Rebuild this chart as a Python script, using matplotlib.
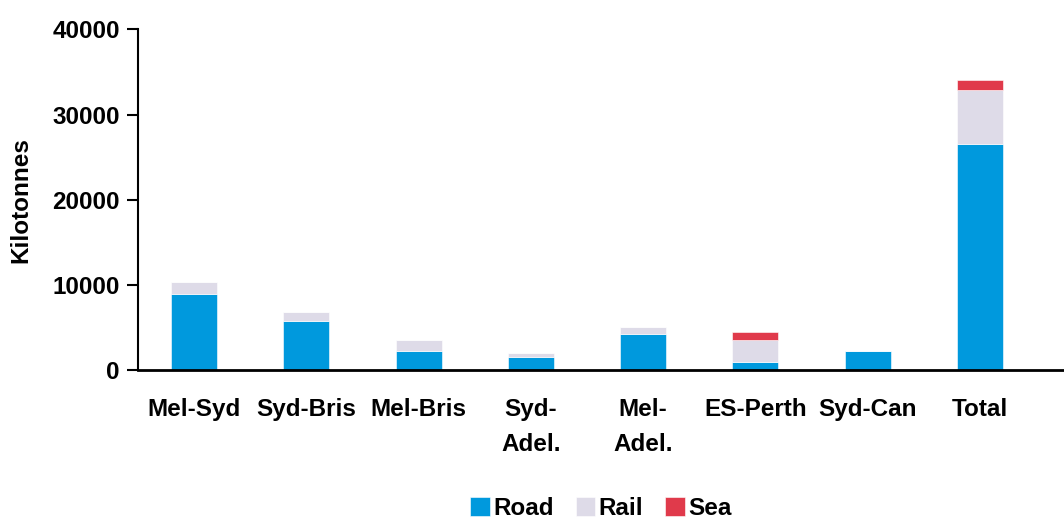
import matplotlib
matplotlib.use("Agg")
import matplotlib.pyplot as plt
import numpy as np

categories = ["Mel-Syd", "Syd-Bris", "Mel-Bris", "Syd-\nAdel.", "Mel-\nAdel.", "ES-Perth", "Syd-Can", "Total"]
road = [9000, 5750, 2260, 1560, 4220, 940, 2260, 26550]
rail = [1350, 1100, 1300, 470, 860, 2610, 0, 6330]
sea = [0, 0, 0, 0, 0, 910, 0, 1130]
yticks = [0, 10000, 20000, 30000, 40000]

plt.rcParams['font.family'] = ['Liberation Sans', 'DejaVu Sans']
fig = plt.figure(figsize=(10.64, 5.21), dpi=100)
ax = fig.add_axes([0.1297, 0.289, 0.8703, 0.6548])

x = np.arange(len(categories))
w = 0.41
c_road, c_rail, c_sea = "#0099dd", "#dedbe8", "#e03a4b"
road = np.array(road); rail = np.array(rail); sea = np.array(sea)
ax.bar(x, road, w, color=c_road, label="Road", edgecolor="white", linewidth=0.4)
ax.bar(x, rail, w, bottom=road, color=c_rail, label="Rail", edgecolor="white", linewidth=0.4)
ax.bar(x, sea, w, bottom=road + rail, color=c_sea, label="Sea", edgecolor="white", linewidth=0.4)

fs = 17.5
ax.set_xlim(-0.5, 7.75)
ax.set_ylim(0, 40000)
ax.set_yticks(yticks)
ax.set_yticklabels([str(v) for v in yticks], fontsize=fs, fontweight="bold")
ax.set_xticks(x)
ax.set_xticklabels(categories, fontsize=fs, fontweight="bold", linespacing=1.65)
ax.tick_params(axis="x", length=0, pad=20)
ax.tick_params(axis="y", length=8, width=1.5, pad=5)
for s in ["top", "right"]:
    ax.spines[s].set_visible(False)
ax.spines["left"].set_linewidth(1.5)
ax.spines["bottom"].set_linewidth(2)
ax.set_ylabel("Kilotonnes", fontsize=fs, fontweight="bold")
ax.yaxis.set_label_coords(-0.114, 0.5)

leg = ax.legend(loc="center", bbox_to_anchor=(0.5, -0.405), ncol=3, frameon=False,
                prop={"size": fs, "weight": "bold"}, handlelength=0.8, handleheight=0.8,
                handletextpad=0.15, columnspacing=0.9, borderpad=0.2)

fig.savefig("out.png", dpi=100)
